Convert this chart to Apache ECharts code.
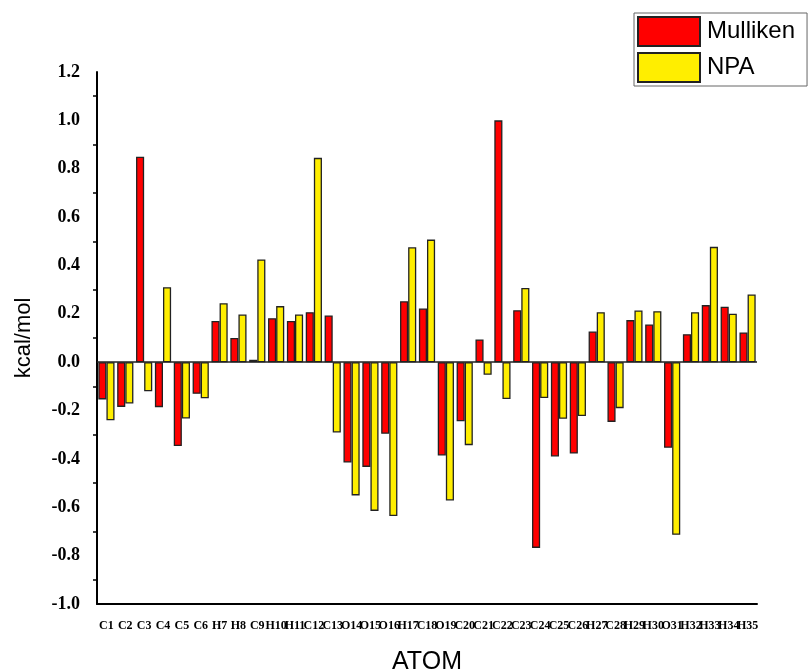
<!DOCTYPE html>
<html>
<head>
<meta charset="utf-8">
<script src="https://cdn.jsdelivr.net/npm/echarts@6/dist/echarts.min.js"></script>
<style>
  html, body { margin: 0; padding: 0; background: #fff; }
  #chart { width: 812px; height: 669px; }
</style>
</head>
<body>
<div id="chart"></div>
<script>
// atoms on the x axis
const atoms = ['C1','C2','C3','C4','C5','C6','H7','H8','C9','H10','H11','C12','C13','O14','O15','O16','H17','C18',
  'O19','C20','C21','C22','C23','C24','C25','C26','H27','C28','H29','H30','O31','H32','H33','H34','H35'];
// Mulliken charges
const mulliken = [-0.154,-0.185,0.85,-0.186,-0.347,-0.131,0.17,0.10,0.01,0.182,0.17,0.207,0.193,-0.415,-0.433,-0.296,0.252,0.222,
  -0.386,-0.244,0.094,1.0,0.215,-0.768,-0.39,-0.378,0.127,-0.247,0.174,0.156,-0.354,0.116,0.236,0.229,0.123];
// NPA charges
const npa = [-0.24,-0.171,-0.12,0.31,-0.233,-0.149,0.244,0.197,0.425,0.232,0.197,0.845,-0.291,-0.551,-0.615,-0.636,0.475,0.507,
  -0.572,-0.343,-0.052,-0.152,0.307,-0.148,-0.234,-0.223,0.207,-0.19,0.214,0.211,-0.714,0.207,0.477,0.2,0.28];

const chart = echarts.init(document.getElementById('chart'));
const serif = '"Liberation Serif", "Times New Roman", serif';
const sans = '"Liberation Sans", Arial, sans-serif';

chart.setOption({
  animation: false,
  backgroundColor: '#fff',
  grid: { left: 97, right: 55, top: 72, bottom: 65, outerBoundsMode: 'none', containLabel: false },
  legend: {
    orient: 'vertical',
    left: 634,
    top: 13,
    padding: [3, 12, 3, 3],
    icon: 'rect',
    itemWidth: 62,
    itemHeight: 29,
    itemGap: 5,
    borderColor: '#666',
    borderWidth: 1,
    textStyle: { fontFamily: sans, fontSize: 24, color: '#000', padding: [0, 0, 0, 2] },
    data: ['Mulliken', 'NPA']
  },
  xAxis: [
    {
      type: 'category',
      data: atoms,
      name: 'ATOM',
      nameLocation: 'middle',
      nameGap: 46,
      nameTextStyle: { fontFamily: sans, fontSize: 25, color: '#000' },
      axisLine: { onZero: false, lineStyle: { color: '#000', width: 2 } },
      axisTick: { alignWithLabel: true, length: 7, lineStyle: { color: '#000', width: 1.5 } },
      axisLabel: { interval: 0, margin: 16, fontFamily: serif, fontWeight: 'bold', fontSize: 12, color: '#000' }
    },
    {
      // short ticks on the category boundaries
      type: 'category',
      data: atoms,
      position: 'bottom',
      axisLine: { show: false },
      axisTick: { length: 3, lineStyle: { color: '#000', width: 1.5 } },
      axisLabel: { show: false }
    }
  ],
  yAxis: {
    type: 'value',
    min: -1.0,
    max: 1.2,
    interval: 0.2,
    name: 'kcal/mol',
    nameLocation: 'middle',
    nameGap: 62,
    nameTextStyle: { fontFamily: sans, fontSize: 22, color: '#000' },
    axisLine: { show: true, lineStyle: { color: '#000', width: 2 } },
    axisTick: { length: 8, lineStyle: { color: '#000', width: 1.5 } },
    minorTick: { show: true, splitNumber: 2, length: 4, lineStyle: { color: '#000', width: 1.5 } },
    splitLine: { show: false },
    axisLabel: {
      margin: 17,
      fontFamily: serif,
      fontWeight: 'bold',
      fontSize: 18,
      color: '#000',
      formatter: v => v.toFixed(1)
    }
  },
  series: [
    {
      name: 'Mulliken',
      type: 'bar',
      data: mulliken,
      barGap: '0%',
      barCategoryGap: '14%',
      itemStyle: { color: '#ff0000', borderColor: '#222', borderWidth: 1.3 },
      markLine: {
        silent: true,
        symbol: ['none', 'none'],
        label: { show: false },
        lineStyle: { color: '#222', width: 1.5, type: 'solid' },
        data: [{ yAxis: 0 }]
      }
    },
    {
      name: 'NPA',
      type: 'bar',
      data: npa,
      barGap: '0%',
      barCategoryGap: '14%',
      itemStyle: { color: '#ffee00', borderColor: '#222', borderWidth: 1.3 }
    }
  ]
});
</script>
</body>
</html>
